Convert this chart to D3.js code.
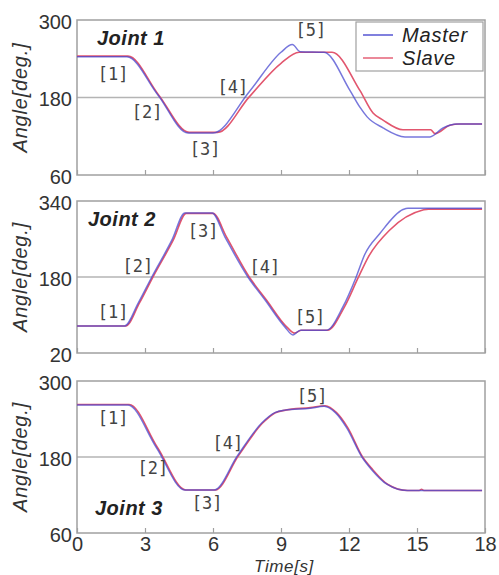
<!DOCTYPE html>
<html>
<head>
<meta charset="utf-8">
<script src="https://cdn.jsdelivr.net/npm/d3@7"></script>
<style>
  body { margin: 0; background: #fff; }
  svg { font-family: "Liberation Sans", Arial, sans-serif; }
</style>
</head>
<body>
<svg id="chart" width="499" height="575"></svg>
<script>
// time [s], angle [deg.]
const joint1Master = [[0,243],[2.2,243],[3.57,184],[4.9,125],[6.0,125],[7.6,189],[9.0,250],[9.5,262],[9.85,251],[10.9,250],[12.04,191],[12.48,165],[12.8,150],[13.5,133],[14.47,119],[15.57,119],[16.15,133],[16.76,139],[17.87,139]];
const joint1Slave  = [[0,244],[2.25,244],[3.6,184],[4.95,126],[6.2,126],[7.6,181],[9.0,233],[9.8,250],[11.25,250],[12.48,191],[13.06,156],[13.5,145],[14.38,130],[15.6,130],[15.8,124],[16.45,137],[16.9,139],[17.87,139]];
const joint2Master = [[0,77],[2.1,77],[2.7,125],[3.3,180],[4.19,258],[4.76,315],[5.96,315],[6.53,264],[7.54,180],[8.29,132],[9.17,75],[9.53,58],[9.85,68],[11.0,68],[11.73,117],[12.3,178],[12.7,228],[13.37,272],[14.38,322],[14.6,325],[17.87,325]];
const joint2Slave  = [[0,77],[2.15,77],[2.75,125],[3.35,180],[4.25,258],[4.82,314],[6.0,314],[6.6,264],[7.6,180],[8.35,132],[9.25,75],[9.6,62],[9.9,68],[11.05,68],[11.8,117],[12.4,178],[12.85,222],[13.8,279],[15.26,321],[15.5,323],[17.87,323]];
const joint3Master = [[0,262],[2.25,262],[3.5,195],[4.76,128],[6.05,128],[7.08,182],[8.16,234],[8.73,250],[9.17,254],[10.28,257],[10.9,260],[11.4,250],[11.9,226],[12.57,180],[13.0,160],[13.67,137],[14.56,127],[17.87,127]];
const joint3Slave  = [[0,263],[2.3,263],[3.55,195],[4.8,128],[6.1,128],[7.12,182],[8.2,234],[8.75,250],[9.2,254],[10.3,258],[10.95,261],[11.45,250],[11.95,226],[12.6,180],[13.05,160],[13.7,137],[14.6,127],[15.1,127],[15.2,129],[15.3,127],[17.87,127]];

// [label, time, angle]
const joint1Marks = [["[1]",1.59,216],["[2]",3.09,158],["[3]",5.65,101],["[4]",6.88,197],["[5]",10.32,285]];
const joint2Marks = [["[1]",1.59,106],["[2]",2.69,203],["[3]",5.56,277],["[4]",8.29,201],["[5]",10.28,96]];
const joint3Marks = [["[1]",1.59,242],["[2]",3.35,163],["[3]",5.74,108],["[4]",6.66,203],["[5]",10.37,277]];

const timeTicks = [0, 3, 6, 9, 12, 15, 18];
const seriesNames = ["Master", "Slave"];

const panels = [
  { name: "Joint 1", domain: [60, 300], ticks: [60, 180, 300], master: joint1Master, slave: joint1Slave, marks: joint1Marks, top: 20, bottom: 175, titleY: 45, titleX: 97 },
  { name: "Joint 2", domain: [20, 340], ticks: [20, 180, 340], master: joint2Master, slave: joint2Slave, marks: joint2Marks, top: 201, bottom: 353, titleY: 226, titleX: 88 },
  { name: "Joint 3", domain: [60, 300], ticks: [60, 180, 300], master: joint3Master, slave: joint3Slave, marks: joint3Marks, top: 381, bottom: 533, titleY: 515, titleX: 95 }
];

const colors = { Master: "#4a4ad0", Slave: "#e2566e" };
const frameColor = "#a0a0a0";
const textColor = "#333";

const svg = d3.select("#chart");
const x = d3.scaleLinear().domain([0, 18]).range([77, 485]);

panels.forEach((p, i) => {
  const y = d3.scaleLinear().domain(p.domain).range([p.bottom, p.top]);
  const g = svg.append("g");

  // mid grid line
  g.append("line")
    .attr("x1", x(0)).attr("x2", x(18))
    .attr("y1", y(p.ticks[1])).attr("y2", y(p.ticks[1]))
    .attr("stroke", "#b4b4b4").attr("stroke-width", 1.5);

  // bottom ticks (inward)
  const xAxis = d3.axisBottom(x).tickValues(timeTicks).tickSize(-5).tickPadding(4)
    .tickFormat(i === panels.length - 1 ? d3.format("d") : () => "");
  const ax = g.append("g").attr("transform", `translate(0,${p.bottom})`).call(xAxis);
  ax.select(".domain").remove();
  ax.selectAll(".tick line").attr("stroke", frameColor).attr("stroke-width", 1.2);
  ax.selectAll(".tick text")
    .attr("fill", textColor).attr("font-size", 20).attr("dy", "0.72em");

  // y labels
  const yAxis = d3.axisLeft(y).tickValues(p.ticks).tickSize(0).tickPadding(5);
  const ay = g.append("g").attr("transform", `translate(${x(0)},0)`).call(yAxis);
  ay.select(".domain").remove();
  ay.selectAll(".tick text")
    .attr("fill", textColor).attr("font-size", 20).attr("dy", "0.42em");

  // frame
  g.append("rect")
    .attr("x", x(0)).attr("y", p.top)
    .attr("width", x(18) - x(0)).attr("height", p.bottom - p.top)
    .attr("fill", "none").attr("stroke", frameColor).attr("stroke-width", 1.5);

  // lines
  const line = d3.line().x(d => x(d[0])).y(d => y(d[1])).curve(d3.curveMonotoneX);
  g.append("path").datum(p.slave)
    .attr("fill", "none").attr("stroke", colors.Slave).attr("stroke-width", 1.6)
    .attr("d", line);
  g.append("path").datum(p.master)
    .attr("fill", "none").attr("stroke", colors.Master).attr("stroke-width", 1.5)
    .attr("stroke-opacity", 0.75)
    .attr("d", line);

  // step markers
  g.selectAll(".mark").data(p.marks).join("text")
    .attr("class", "mark")
    .attr("x", d => x(d[1])).attr("y", d => y(d[2]))
    .attr("text-anchor", "middle").attr("dy", "0.36em")
    .attr("font-family", "'DejaVu Sans Mono', monospace")
    .attr("font-size", 17).attr("fill", "#444")
    .text(d => d[0]);

  // panel title
  g.append("text")
    .attr("x", p.titleX).attr("y", p.titleY)
    .attr("font-size", 20).attr("font-weight", "bold").attr("font-style", "italic")
    .attr("letter-spacing", 0.5).attr("fill", "#222")
    .text(p.name);

  // y title
  const cy = (p.top + p.bottom) / 2;
  g.append("text")
    .attr("transform", `translate(27,${cy}) rotate(-90)`)
    .attr("text-anchor", "middle")
    .attr("font-size", 20).attr("font-style", "italic").attr("letter-spacing", 0.8)
    .attr("fill", textColor)
    .text("Angle[deg.]");
});

// x title
svg.append("text")
  .attr("x", 284).attr("y", 572)
  .attr("text-anchor", "middle")
  .attr("font-size", 17).attr("font-style", "italic").attr("letter-spacing", 0.6)
  .attr("fill", textColor)
  .text("Time[s]");

// legend
const legend = svg.append("g");
legend.append("rect")
  .attr("x", 356).attr("y", 22).attr("width", 127).attr("height", 49)
  .attr("fill", "#fff").attr("stroke", frameColor).attr("stroke-width", 1.2);
seriesNames.forEach((name, i) => {
  const ly = 35 + i * 23;
  legend.append("line")
    .attr("x1", 363).attr("x2", 393).attr("y1", ly).attr("y2", ly)
    .attr("stroke", colors[name]).attr("stroke-width", 1.4);
  legend.append("text")
    .attr("x", 402).attr("y", ly).attr("dy", "0.36em")
    .attr("font-size", 20).attr("font-style", "italic").attr("letter-spacing", 0.8)
    .attr("fill", "#222")
    .text(name);
});
</script>
</body>
</html>
